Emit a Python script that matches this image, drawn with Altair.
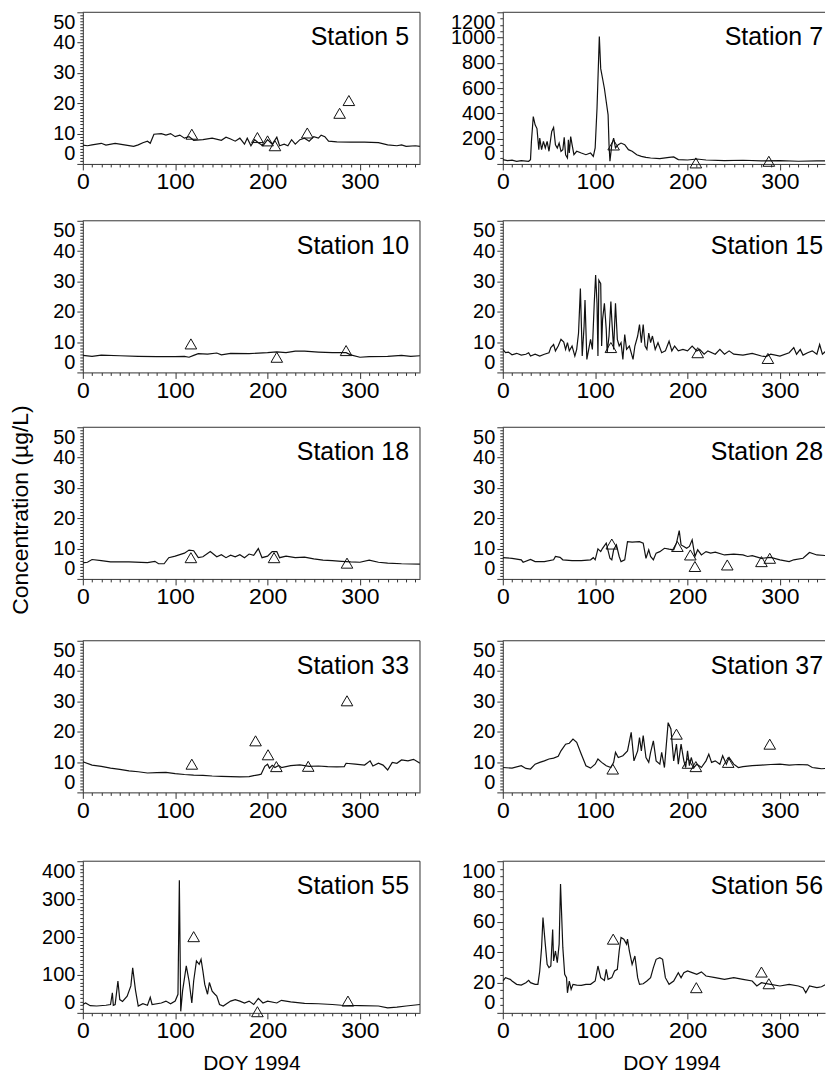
import altair as alt
import pandas as pd

FONT = "Liberation Sans"
INK = "#111111"
FRAME = "#333333"

# ---------------- data ----------------
S5_DAY = [0,5,10,20,25,35,45,55,60,65,70,73,77,85,90,95,100,105,110,115,120,130,140,150,155,160,165,170,175,178,182,186,190,195,200,205,210,213,218,222,226,230,235,240,245,250,255,258,262,266,275,290,305,320,330,340,345,350,360,365]
S5_CONC = [6.2,6.0,6.3,6.8,6.2,6.8,6.3,5.8,6.3,7.0,7.5,6.8,9.8,10.0,9.5,10.0,9.0,9.5,8.5,9.0,7.8,8.0,8.5,7.8,8.8,8.2,7.5,8.5,6.5,8.5,6.0,8.0,7.0,6.0,8.0,6.5,8.8,6.0,6.5,6.0,8.0,6.5,8.0,8.5,7.5,9.0,8.5,9.5,9.0,7.5,7.3,7.2,7.2,7.0,6.3,6.0,6.3,5.8,6.0,5.8]
S5_OBS_DAY = [118, 189, 200, 208, 243, 278, 288]
S5_OBS_CONC = [9.8, 8.7, 7.6, 6.0, 10.2, 16.7, 20.9]

S7_DAY = [0,5,10,15,20,28,30,31,33,35, 37,39,40,42,44,46,48,50,53,55, 57,59,61,63,65,66.5,68,70,71,72, 73.5,75,77,80,85,90,95,98,100,102, 104.5,106,108,110,112,114,115,116,118,120, 122,125,128,132,136,140,145,150,155,160, 170,180,185,190,200,210,220,240,260,280, 300,320,340,365]
S7_CONC = [34,26,30,21,26,21,34,178,375,309, 280,113,204,113,178,126,178,100,257,288, 152,126,165,100,113,210,73,47,191,86, 217,152,73,100,86,73,86,60,126,440, 1009,754,676,597,492,388,152,21,152,204, 126,152,165,152,113,100,73,60,52,47, 42,52,55,34,31,39,31,26,29,24, 26,21,24,26]
S7_OBS_DAY = [120, 209, 288]
S7_OBS_CONC = [150, 8, 21]

S10_DAY = [0,10,20,40,60,80,100,110,115,120,125,135,145,150,160,180,200,210,220,230,240,255,270,285,290,300,310,330,345,355,365]
S10_CONC = [5.6,5.3,5.7,5.5,5.3,5.2,5.2,5.3,5.0,5.6,6.2,6.0,6.4,5.8,6.3,6.2,6.5,6.8,6.5,7.0,7.0,6.7,6.5,6.5,5.8,5.0,5.2,5.3,5.6,5.3,5.5]
S10_OBS_DAY = [117, 210, 285]
S10_OBS_CONC = [9.4, 5.0, 7.2]

S15_DAY = [0,3,6,10,15,20,25,28,30,35, 40,45,50,52,55,57,60,63,66,68, 70,72,75,78,80,82,84,86,88,89, 91,93,95,97,99,100.5,102,103,104,106, 107,108,110,112,113,115,117,118,120,122, 124,126,128,130,132,134,137,141,143,146, 148,150,152,154,156,158,160,162,165,168, 172,176,180,183,186,190,195,200,205,210, 213,218,222,230,235,240,245,250,260,270, 280,285,290,300,310,315,318,322,325,330, 335,340,343,346,350,355,360,365]
S15_CONC = [7.6,6.5,6.7,5.8,6.3,5.7,6.0,6.5,5.4,6.0, 5.4,6.0,6.5,8.2,9.2,7.1,8.7,10.9,10.0,7.6, 9.8,7.1,8.7,5.4,7.6,13.0,27.7,5.4,15.2,23.9, 4.3,7.6,10.9,7.6,22.8,32.1,22.8,5.4,30.4,29.3, 8.7,17.4,22.8,14.1,6.5,12.0,23.4,17.4,7.6,22.8, 10.9,8.7,9.8,4.3,12.5,7.6,8.7,4.3,8.7,12.0, 15.8,9.8,15.8,8.7,7.6,13.0,9.8,12.0,7.6,9.8, 6.5,7.1,10.3,7.1,8.7,7.1,7.6,7.1,8.7,7.1, 7.6,6.0,7.1,6.0,7.6,6.0,7.1,6.0,5.7,6.3, 5.4,5.2,6.0,5.4,6.5,8.2,6.0,7.6,5.7,6.5, 7.1,6.0,9.2,6.0,7.1,7.6,8.7,7.0]
S15_OBS_DAY = [117, 211, 287]
S15_OBS_CONC = [8.2, 6.5, 4.6]

S18_DAY = [0,5,10,20,30,50,70,78,82,88, 93,100,105,110,115,120,125,130,138,145, 150,155,160,165,170,175,180,185,190,194, 200,205,210,213,220,230,240,250,260,270, 280,290,300,310,320,330,345,365]
S18_CONC = [5.3,5.5,6.4,6.0,5.6,5.6,5.4,5.8,5.0,5.0, 7.0,7.5,8.0,8.5,9.5,9.3,7.0,7.3,9.0,7.3, 8.0,7.0,7.8,7.3,8.0,7.0,8.2,7.8,10.0,7.0, 7.5,9.0,9.0,7.0,7.5,7.0,7.2,6.6,6.2,6.0, 5.8,5.6,5.5,6.2,5.5,5.2,5.0,4.9]
S18_OBS_DAY = [117, 207, 286]
S18_OBS_CONC = [7.0, 7.0, 5.2]

S28_DAY = [0,10,20,22,30,35,45,55,57,62, 65,75,85,95,98,100,103,106,108,112, 116,118,120,123,126,128,132,135,140,148, 152,155,158,160,163,166,170,175,180,185, 188,191,193,196,199,202,205,208,211,215, 220,225,230,240,250,260,265,270,280,290, 300,310,315,325,332,340,350,360,365]
S28_CONC = [7.0,6.8,6.3,5.5,6.4,5.7,5.7,6.3,7.4,7.1, 6.3,6.0,6.0,6.3,7.0,6.3,9.9,9.0,10.1,11.8, 6.8,6.3,9.6,11.2,7.4,5.7,6.3,12.3,12.1,12.3, 11.8,6.8,9.6,7.4,6.3,8.5,9.0,10.1,9.8,9.6, 11.8,15.9,11.2,10.7,10.1,10.7,12.9,7.4,9.6,7.9, 9.0,8.5,8.8,7.9,8.2,7.9,7.4,7.7,6.8,7.1, 6.3,5.7,6.3,6.8,8.7,7.9,7.7,7.0,6.8]
S28_OBS_DAY = [118, 189, 203, 208, 243, 280, 289]
S28_OBS_CONC = [11.5, 10.7, 7.9, 4.1, 4.6, 5.7, 6.8]

S33_DAY = [0,10,20,30,40,50,60,70,80,90, 100,110,120,130,140,150,160,170,180,185, 190,193,197,200,202,205,208,212,215,225, 235,245,255,265,275,283,285,295,305,311, 314,320,325,330,335,340,345,352,358,365]
S33_CONC = [10.1,9.0,8.6,8.0,7.6,7.1,6.8,6.4,6.5,6.6, 6.2,5.9,5.7,5.6,5.4,5.3,5.2,5.1,5.2,5.5, 5.8,6.0,8.6,9.3,8.0,8.9,8.2,8.9,8.2,8.8, 9.1,8.6,8.7,8.5,8.4,8.5,9.6,9.3,9.0,10.4, 8.7,9.6,9.0,7.4,9.9,9.6,10.7,10.4,10.9,9.6]
S33_OBS_DAY = [118, 187, 200.5, 209.5, 244, 286]
S33_OBS_CONC = [9.3, 17.0, 12.4, 8.5, 8.6, 30.2]

S37_DAY = [0,10,20,25,30,35,40,45,50,55, 60,63,68,72,76,80,85,90,95,100, 103,107,112,117,120,122,125,130,135,139, 142,146,148,150,152,155,158,160,163,166, 170,172,175,179,182,185,188,190,193,196, 198,200,202,204,207,210,215,220,223,226, 230,235,238,242,245,250,255,260,270,280, 290,300,310,320,330,335,340,345,350,355, 360,365]
S37_CONC = [8.2,8.0,8.8,7.9,7.7,9.3,9.9,10.4,11.0,11.3, 11.9,13.7,15.9,16.2,17.6,16.5,12.6,8.8,8.0,9.3, 11.0,9.9,8.8,8.2,9.9,13.2,11.5,12.1,13.7,19.8, 10.4,13.7,18.1,13.7,18.7,11.5,9.9,13.2,17.0,10.4, 9.3,13.2,8.2,23.0,20.9,10.4,15.9,9.3,15.9,10.4, 8.2,13.7,8.8,11.5,8.2,9.3,8.2,10.4,12.6,9.9, 10.4,9.3,12.1,9.3,11.5,9.3,8.2,8.5,8.8,9.0, 9.2,9.3,9.0,9.2,9.1,8.2,8.0,7.8,7.9,7.4, 7.6,7.5]
S37_OBS_DAY = [119, 188, 200.5, 209, 244, 289]
S37_OBS_CONC = [7.7, 19.2, 9.6, 8.5, 9.9, 15.9]

S55_DAY = [0,3,8,15,25,30,32,33,35,38, 40,43,48,52,54,57,60,65,70,73, 75,85,90,95,100,103,104.5,106,108,112, 115,118,120,123,126,128,130,132,135,137, 140,143,145,148,152,160,165,170,175,180, 185,190,195,200,210,215,225,240,255,270, 280,300,320,330,340,350,365]
S55_CONC = [22,26,19,18,20,22,53,20,22,84, 35,30,44,71,119,60,18,24,20,41, 22,26,31,24,31,49,350,4,58,124, 84,26,84,137,128,141,110,75,49,80, 57,49,44,22,18,31,35,31,26,31, 22,38,26,31,26,33,29,25,24,22, 20,19,18,13,15,18,22]
S55_OBS_DAY = [120, 189, 287]
S55_OBS_CONC = [201, 3, 31]

S56_DAY = [0,3,8,10,15,20,25,28,30,35, 38,40,42,43.5,46,48,50,52,54,55, 57,59,61,62.5,65,67,69,70,72,74, 76,80,85,90,95,100,103,106,110,112, 114,118,121,124,126,128,131,134,135,137, 140,143,146,148,152,156,160,163,166,170, 173,176,180,185,190,193,196,200,205,210, 215,220,230,240,250,260,270,275,280,290, 300,310,320,325,328,332,340,345,350,360, 365]
S56_CONC = [21.0,23.2,22.1,21.0,18.8,18.3,19.9,21.4,19.9,18.8, 18.8,27.6,43.0,62.9,45.3,32.0,29.8,30.9,55.0,34.2, 40.8,33.1,45.3,85.0,43.0,25.4,23.2,13.2,21.0,15.5, 18.8,18.3,18.1,18.8,18.8,21.0,30.9,23.2,21.4,28.7, 22.1,23.2,27.6,28.7,40.8,49.7,48.6,45.3,48.6,40.8, 32.0,37.5,23.2,18.8,19.2,21.0,23.2,29.8,35.3,36.4, 35.3,23.2,18.8,21.0,26.5,23.2,26.5,27.6,26.5,25.4, 27.0,24.3,23.2,22.1,23.2,22.1,21.0,17.7,19.9,18.8, 17.7,18.8,17.7,16.6,13.2,17.7,16.6,17.2,18.8,18.8, 18.8]
S56_OBS_DAY = [119.5, 209.5, 280, 288]
S56_OBS_CONC = [48.6, 16.6, 26.9, 19.2]

STATIONS = ["Station 5", "Station 7", "Station 10", "Station 15", "Station 18",
            "Station 28", "Station 33", "Station 37", "Station 55", "Station 56"]
SERIES = [
    (S5_DAY, S5_CONC, S5_OBS_DAY, S5_OBS_CONC),
    (S7_DAY, S7_CONC, S7_OBS_DAY, S7_OBS_CONC),
    (S10_DAY, S10_CONC, S10_OBS_DAY, S10_OBS_CONC),
    (S15_DAY, S15_CONC, S15_OBS_DAY, S15_OBS_CONC),
    (S18_DAY, S18_CONC, S18_OBS_DAY, S18_OBS_CONC),
    (S28_DAY, S28_CONC, S28_OBS_DAY, S28_OBS_CONC),
    (S33_DAY, S33_CONC, S33_OBS_DAY, S33_OBS_CONC),
    (S37_DAY, S37_CONC, S37_OBS_DAY, S37_OBS_CONC),
    (S55_DAY, S55_CONC, S55_OBS_DAY, S55_OBS_CONC),
    (S56_DAY, S56_CONC, S56_OBS_DAY, S56_OBS_CONC),
]
# y-axis: (top of range, major step, minor step)
Y_AXES = [(50, 10, 1), (1200, 200, 50), (50, 10, 1), (50, 10, 1), (50, 10, 1),
          (50, 10, 1), (50, 10, 1), (50, 10, 1), (400, 100, 10), (100, 20, 5)]
Y_TITLE = "Concentration (µg/L)"

# ---------------- layout / style ----------------
H = 152
PX_PER_DAY = 338 / 365
W_LEFT, W_RIGHT = 338, 323
XMAX_LEFT, XMAX_RIGHT = 365, 323 / PX_PER_DAY
ROW_XEXT = [36, 34, 41, 48, None]
TOTAL_H = 998


def dash_cond(test):
    # major ticks solid (6 px), minor ticks only their first 3 px drawn
    return {"condition": {"test": test, "value": [6, 0]}, "value": [3, 20]}


def size_cond(test, size):
    # minor ticks carry no label text at all (zero size keeps their bounds empty)
    return {"condition": {"test": test, "value": size}, "value": 0}


def make_panel(i):
    name = STATIONS[i]
    day, conc, oday, oconc = SERIES[i]
    ymax, major, minor = Y_AXES[i]
    row, right = i // 2, i % 2 == 1
    W = W_RIGHT if right else W_LEFT
    xmax = XMAX_RIGHT if right else XMAX_LEFT
    last_row = row == 4

    line_df = pd.DataFrame({"day": day, "conc": conc})
    obs_df = pd.DataFrame({"day": oday, "conc": oconc})

    xtest = "datum.value % 100 === 0"
    xvals = list(range(0, int(xmax) + 1, 10))
    xaxis_kw = dict(
        values=xvals, format="d",
        labelExpr=f"{xtest} ? datum.label : ''",
        ticks=True, tickSize=6, tickWidth=1,
        tickDash=dash_cond(xtest),
        labelFlush=False, labelOverlap=False, labelFontSize=size_cond(xtest, 23), labelPadding=1,
        grid=False, domainColor=FRAME, tickColor=FRAME, labelColor="black",
    )
    if ROW_XEXT[row] is not None:
        xaxis_kw["minExtent"] = ROW_XEXT[row]
    if last_row:
        xaxis_kw.update(title="DOY 1994", titleFontSize=21, titleFontWeight="normal",
                        titlePadding=10, titleColor="black", titleX=169)
    else:
        xaxis_kw["title"] = None
    xaxis = alt.Axis(**xaxis_kw)

    ytest = f"datum.value % {major} === 0"
    yvals = list(range(0, ymax + 1, minor))
    yaxis = alt.Axis(
        values=yvals, format="d",
        labelExpr=f"{ytest} ? datum.label : ''",
        ticks=True, tickSize=6, tickWidth=1,
        tickDash=dash_cond(ytest),
        labelFlush=True, labelOverlap=False, labelFontSize=size_cond(ytest, 20), labelPadding=2,
        grid=False, domainColor=FRAME, tickColor=FRAME, labelColor="black",
        minExtent=53 if right else 46, title=None,
    )

    x = alt.X("day:Q", scale=alt.Scale(domain=[0, xmax], nice=False, zero=False), axis=xaxis)
    y = alt.Y("conc:Q", scale=alt.Scale(domain=[0, ymax], nice=False), axis=yaxis)

    line = alt.Chart(line_df).mark_line(clip=True, color=INK, strokeWidth=1.2).encode(x=x, y=y)
    pts = alt.Chart(obs_df).mark_point(shape="triangle-up", filled=False, size=135,
                                       color=INK, strokeWidth=1, opacity=1).encode(x=x, y=y)
    label = alt.Chart(pd.DataFrame({"t": [name]})).mark_text(
        align="right", baseline="alphabetic", fontSize=25, font=FONT, color="black"
    ).encode(x=alt.value(321 if right else 327), y=alt.value(33), text="t:N")
    frame = pd.DataFrame({"k": [0]})
    top = alt.Chart(frame).mark_rule(color=FRAME, strokeWidth=1).encode(
        x=alt.value(0), x2=alt.value(W), y=alt.value(0))
    layers = [line, pts, label, top]
    if not right:
        layers.append(alt.Chart(frame).mark_rule(color=FRAME, strokeWidth=1).encode(
            x=alt.value(W), y=alt.value(0), y2=alt.value(H)))
    return alt.layer(*layers).properties(width=W, height=H, view=alt.ViewBackground(stroke=None))


rows = [alt.hconcat(make_panel(2 * r), make_panel(2 * r + 1), spacing=29) for r in range(5)]
grid = alt.vconcat(*rows, spacing=20)

ytitle = alt.Chart(pd.DataFrame({"t": [Y_TITLE]})).mark_text(
    angle=270, align="center", baseline="middle", fontSize=23, font=FONT, color="black"
).encode(x=alt.value(11.5), y=alt.value(499), text="t:N").properties(
    width=22, height=TOTAL_H, view=alt.ViewBackground(stroke=None))

chart = alt.hconcat(ytitle, grid, spacing=3).properties(
    padding={"left": 2, "top": 2, "right": 0, "bottom": 0},
).configure_axis(labelFont=FONT, titleFont=FONT).configure_view(stroke=None)

chart.save("out.html", embed_options={"renderer": "svg", "actions": False})
